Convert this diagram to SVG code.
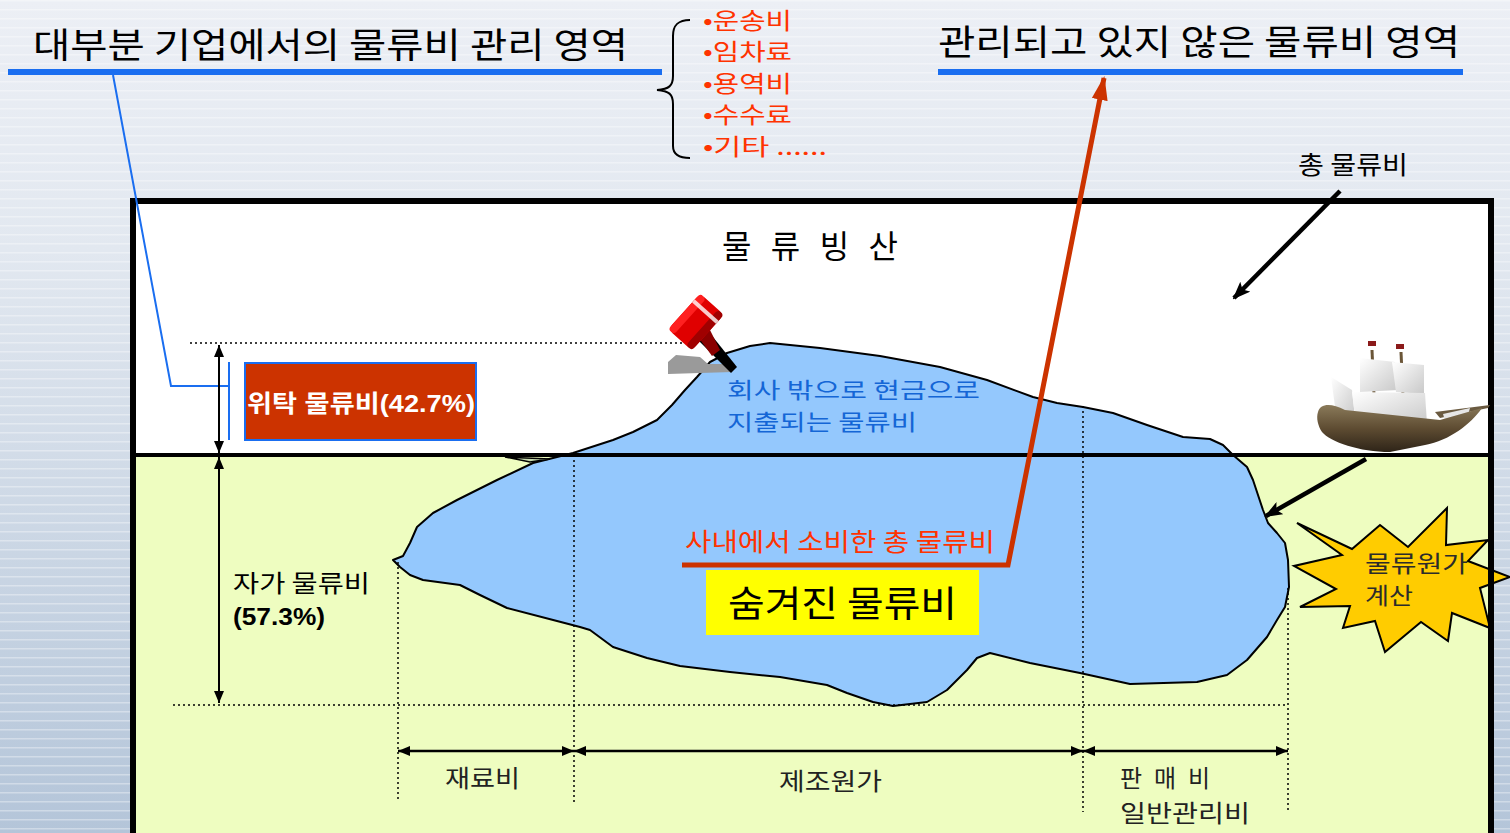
<svg xmlns="http://www.w3.org/2000/svg" width="1510" height="833" viewBox="0 0 1510 833">
  <defs>
    <linearGradient id="bg" x1="0" y1="0" x2="0" y2="1">
      <stop offset="0" stop-color="#eceff5"/>
      <stop offset="0.3" stop-color="#e2e8f0"/>
      <stop offset="1" stop-color="#b4c5d9"/>
    </linearGradient>
    <pattern id="stripes" width="40" height="9" patternUnits="userSpaceOnUse">
      <rect x="0" y="0" width="40" height="1.5" fill="#ffffff" opacity="0.35"/>
    </pattern>
    <marker id="ah" viewBox="0 0 12 10" refX="12" refY="5" markerWidth="12" markerHeight="10" markerUnits="userSpaceOnUse" orient="auto-start-reverse">
      <path d="M0,0 L12,5 L0,10 z" fill="#000"/>
    </marker>
    <marker id="ahBig" viewBox="0 0 18 14" refX="16" refY="7" markerWidth="18" markerHeight="14" markerUnits="userSpaceOnUse" orient="auto">
      <path d="M0,0 L18,7 L0,14 L4,7 z" fill="#000"/>
    </marker>
    <marker id="ahRed" viewBox="0 0 24 16" refX="22" refY="8" markerWidth="24" markerHeight="16" markerUnits="userSpaceOnUse" orient="auto">
      <path d="M0,0 L24,8 L0,16 z" fill="#cc3300"/>
    </marker>
    <linearGradient id="hull" x1="0" y1="0" x2="0" y2="1">
      <stop offset="0" stop-color="#8a7a5a"/>
      <stop offset="0.5" stop-color="#5e4c32"/>
      <stop offset="1" stop-color="#2e2418"/>
    </linearGradient>
    <linearGradient id="sail" x1="0" y1="0" x2="1" y2="1">
      <stop offset="0" stop-color="#ffffff"/>
      <stop offset="1" stop-color="#c8c8c8"/>
    </linearGradient>
  </defs>
  <style>
    .k { font-family: "Noto Sans CJK KR", "Noto Sans", sans-serif; }
    .mix { font-family: "Liberation Sans", "Noto Sans CJK KR", sans-serif; }
    .red { fill: #ff3300; }
    .blue { fill: #1466d6; }
    .dot { stroke: #000; stroke-width: 1.5; stroke-dasharray: 2 3; fill: none; }
    .blueLine { stroke: #1a6ef0; fill: none; }
    .dim { stroke: #000; stroke-width: 2.5; fill: none; }
  </style>

  <!-- page background -->
  <rect x="0" y="0" width="1510" height="833" fill="url(#bg)"/>
  <rect x="0" y="0" width="1510" height="833" fill="url(#stripes)"/>

  <!-- frame fills: air above, water below -->
  <rect x="133" y="201" width="1358" height="254" fill="#ffffff"/>
  <rect x="133" y="455" width="1358" height="390" fill="#eefdc0"/>

  <!-- iceberg -->
  <g id="iceberg">
    <path d="M393,560 L403,556 L410,543 L417,527 L433,513 L457,500 L497,480 L533,463 L553,458 L573,453 L613,440 L633,432 L657,420 L672,405 L685,390 L697,377 L710,362 L727,353 L750,346 L770,343 L820,348 L880,356 L940,367 L987,380 L1033,397 L1057,403 L1083,407 L1113,413 L1147,425 L1183,437 L1210,439 L1223,445 L1233,455 L1247,467 L1253,480 L1263,510 L1268,523 L1277,533 L1285,543 L1288,560 L1289,587 L1285,607 L1277,620 L1267,637 L1247,660 L1227,675 L1197,682 L1130,684 L1080,673 L1030,663 L990,653 L977,658 L967,670 L947,690 L927,702 L893,706 L873,702 L847,693 L827,685 L780,677 L730,672 L680,666 L647,658 L613,647 L590,630 L580,627 L557,621 L507,608 L480,595 L460,585 L423,580 L410,575 L400,567 Z" fill="#94c8fd" stroke="#000" stroke-width="2" stroke-linejoin="round"/>
    <path d="M505,457 L530,462 L550,459 Z" fill="#c9dcb0" stroke="#000" stroke-width="1.5"/>
  </g>

  <!-- guide lines -->
  <g id="guides">
    <line class="dot" x1="190" y1="343" x2="700" y2="343"/>
    <line class="dot" x1="173" y1="705" x2="1285" y2="705"/>
    <line class="dot" x1="398" y1="562" x2="398" y2="800"/>
    <line class="dot" x1="574" y1="455" x2="574" y2="805"/>
    <line class="dot" x1="1083" y1="406" x2="1083" y2="812"/>
    <line class="dot" x1="1288" y1="588" x2="1288" y2="812"/>
  </g>

  <!-- frame strokes -->
  <g id="frame">
    <line x1="133" y1="455" x2="1491" y2="455" stroke="#000" stroke-width="4"/>
    <path d="M133,845 L133,201 L1491,201 L1491,845" fill="none" stroke="#000" stroke-width="6"/>
  </g>

  <!-- left title -->
  <g id="title-left">
    <text class="k" x="33" y="58" font-size="35" textLength="595" lengthAdjust="spacingAndGlyphs" fill="#000">대부분 기업에서의 물류비 관리 영역</text>
    <rect x="8" y="69" width="654" height="6" fill="#1a6ef0"/>
  </g>

  <!-- right title -->
  <g id="title-right">
    <text class="k" x="938" y="55" font-size="35" textLength="522" lengthAdjust="spacingAndGlyphs" fill="#000">관리되고 있지 않은 물류비 영역</text>
    <rect x="938" y="69" width="525" height="6" fill="#1a6ef0"/>
  </g>

  <!-- list of managed costs -->
  <g id="cost-list">
    <path d="M690,20 C678,20 673,25 673,36 L673,76 C673,86 669,89 657,90 C669,91 673,94 673,104 L673,146 C673,154 678,158 690,158" fill="none" stroke="#000" stroke-width="2"/>
    <text class="k red" x="703" y="29" font-size="23" textLength="89" lengthAdjust="spacingAndGlyphs">•운송비</text>
    <text class="k red" x="703" y="60" font-size="23" textLength="89" lengthAdjust="spacingAndGlyphs">•임차료</text>
    <text class="k red" x="703" y="92" font-size="23" textLength="89" lengthAdjust="spacingAndGlyphs">•용역비</text>
    <text class="k red" x="703" y="123" font-size="23" textLength="89" lengthAdjust="spacingAndGlyphs">•수수료</text>
    <text class="k red" x="703" y="155" font-size="23" textLength="124" lengthAdjust="spacingAndGlyphs">•기타 ......</text>
  </g>

  <!-- total cost label -->
  <g id="total-label">
    <text class="k" x="1298" y="174" font-size="25" textLength="110" lengthAdjust="spacingAndGlyphs" fill="#000">총 물류비</text>
  </g>

  <!-- heading inside frame -->
  <g id="heading">
    <text class="k" x="722" y="258" font-size="32" textLength="176" lengthAdjust="spacing" fill="#000">물 류 빙 산</text>
  </g>

  <!-- outsourced logistics cost -->
  <g id="outsourced">
    <line class="blueLine" x1="229" y1="362" x2="229" y2="440" stroke-width="2"/>
    <rect x="245" y="363" width="231" height="77" fill="#cc3300" stroke="#1a6ef0" stroke-width="2"/>
    <text class="mix" x="247" y="412" font-size="24" font-weight="bold" textLength="228" lengthAdjust="spacingAndGlyphs" fill="#ffffff">위탁 물류비(42.7%)</text>
  </g>

  <!-- in-house logistics cost -->
  <g id="inhouse">
    <text class="k" x="233" y="592" font-size="24" textLength="137" lengthAdjust="spacingAndGlyphs" fill="#000">자가 물류비</text>
    <text class="mix" x="233" y="625" font-size="24" font-weight="bold" textLength="92" lengthAdjust="spacingAndGlyphs" fill="#000">(57.3%)</text>
  </g>

  <!-- cash outflow label -->
  <g id="cash-out">
    <text class="k blue" x="727" y="398" font-size="22" textLength="253" lengthAdjust="spacingAndGlyphs">회사 밖으로 현금으로</text>
    <text class="k blue" x="727" y="430" font-size="22" textLength="190" lengthAdjust="spacingAndGlyphs">지출되는 물류비</text>
  </g>

  <!-- internal consumption label -->
  <g id="internal">
    <text class="k red" x="685" y="551" font-size="25" textLength="310" lengthAdjust="spacingAndGlyphs">사내에서 소비한 총 물류비</text>
  </g>

  <!-- hidden logistics cost -->
  <g id="hidden">
    <rect x="706" y="570" width="273" height="65" fill="#ffff00"/>
    <text class="k" x="728" y="617" font-size="36" textLength="229" lengthAdjust="spacingAndGlyphs" fill="#000">숨겨진 물류비</text>
  </g>

  <!-- cost accounting burst -->
  <g id="burst">
    <path d="M1297,523 L1352,549 L1380,525 L1408,547 L1447,508 L1446,545 L1488,540 L1468,561 L1510,577 L1480,588 L1490,628 L1452,613 L1448,641 L1421,622 L1385,652 L1375,621 L1343,628 L1350,606 L1300,607 L1336,589 L1294,566 L1342,555 Z" fill="#ffcc00" stroke="#000" stroke-width="2" stroke-linejoin="miter"/>
    <text class="k" x="1365" y="572" font-size="23" textLength="103" lengthAdjust="spacingAndGlyphs" fill="#2b2b2b">물류원가</text>
    <text class="k" x="1365" y="604" font-size="23" textLength="48" lengthAdjust="spacingAndGlyphs" fill="#2b2b2b">계산</text>
  </g>
  <!-- frame edge drawn again over the burst -->
  <line x1="1491" y1="455" x2="1491" y2="845" stroke="#000" stroke-width="6"/>

  <!-- cost breakdown labels -->
  <g id="breakdown">
    <text class="k" x="445" y="787" font-size="24" textLength="75" lengthAdjust="spacingAndGlyphs" fill="#222">재료비</text>
    <text class="k" x="779" y="790" font-size="24" textLength="103" lengthAdjust="spacingAndGlyphs" fill="#222">제조원가</text>
    <text class="k" x="1120" y="787" font-size="24" textLength="90" lengthAdjust="spacing" fill="#222">판 매 비</text>
    <text class="k" x="1120" y="822" font-size="24" textLength="130" lengthAdjust="spacingAndGlyphs" fill="#222">일반관리비</text>
  </g>

  <!-- gavel -->
  <g id="gavel">
    <path d="M668,362 L676,355 L700,357 L708,364 L730,364 L732,372 L668,374 Z" fill="#9a9a9a"/>
    <path d="M694,336 L705,327 L737,367 L731,373 Z" fill="#000"/>
    <path d="M696,334 L708,326 L720,350 L712,356 Z" fill="#8a0000"/>
    <g transform="rotate(-48 696 322)">
      <rect x="672" y="306" width="48" height="32" rx="6" fill="#e00000"/>
      <rect x="672" y="306" width="48" height="8" rx="4" fill="#ff2020"/>
      <rect x="672" y="330" width="48" height="8" rx="4" fill="#a00000"/>
      <rect x="708" y="306" width="4" height="32" fill="#ffffff" opacity="0.8"/>
    </g>
  </g>

  <!-- sailing ship -->
  <g id="ship">
    <path d="M1435,412 L1490,405 L1488,408 L1440,418 Z" fill="#6a5a40"/>
    <path d="M1443,414 L1470,408 L1466,422 L1446,424 Z" fill="#e6e6e6"/>
    <line x1="1372" y1="350" x2="1374" y2="395" stroke="#6b5638" stroke-width="3"/>
    <line x1="1401" y1="352" x2="1403" y2="395" stroke="#6b5638" stroke-width="3"/>
    <rect x="1368" y="341" width="8" height="5" fill="#8b1a1a"/>
    <rect x="1396" y="344" width="8" height="5" fill="#8b1a1a"/>
    <path d="M1360,358 L1395,362 L1398,390 L1360,392 Z" fill="url(#sail)"/>
    <path d="M1392,362 L1424,365 L1424,394 L1396,392 Z" fill="url(#sail)"/>
    <path d="M1331,377 L1352,390 L1355,418 L1336,414 Z" fill="url(#sail)"/>
    <path d="M1352,392 L1425,393 L1427,424 L1356,424 Z" fill="url(#sail)"/>
    <path d="M1318,412 C1320,404 1330,402 1345,410 L1440,420 L1482,408 C1470,425 1450,440 1425,445 L1390,452 C1360,452 1330,442 1322,432 C1318,426 1316,418 1318,412 Z" fill="url(#hull)"/>
  </g>

  <!-- connectors -->
  <g id="connectors">
    <!-- callout from the managed-area title to the outsourced bracket -->
    <polyline class="blueLine" points="113,75 171,386 229,386" stroke-width="2"/>
    <!-- vertical extents -->
    <line x1="219" y1="345" x2="219" y2="453" stroke="#000" stroke-width="2" marker-start="url(#ah)" marker-end="url(#ah)"/>
    <line x1="219" y1="457" x2="219" y2="703" stroke="#000" stroke-width="2" marker-start="url(#ah)" marker-end="url(#ah)"/>
    <!-- horizontal extents -->
    <line class="dim" x1="398" y1="751" x2="574" y2="751" marker-start="url(#ah)" marker-end="url(#ah)"/>
    <line class="dim" x1="574" y1="751" x2="1083" y2="751" marker-start="url(#ah)" marker-end="url(#ah)"/>
    <line class="dim" x1="1083" y1="751" x2="1288" y2="751" marker-start="url(#ah)" marker-end="url(#ah)"/>
    <!-- total cost pointer -->
    <line x1="1340" y1="191" x2="1234" y2="298" stroke="#000" stroke-width="4.5" marker-end="url(#ahBig)"/>
    <!-- ship to iceberg -->
    <line x1="1366" y1="459" x2="1266" y2="516" stroke="#000" stroke-width="4.5" marker-end="url(#ahBig)"/>
    <!-- hidden cost to unmanaged area -->
    <polyline points="682,565 1008,565 1104,78" fill="none" stroke="#cc3300" stroke-width="5" marker-end="url(#ahRed)"/>
  </g>
</svg>
